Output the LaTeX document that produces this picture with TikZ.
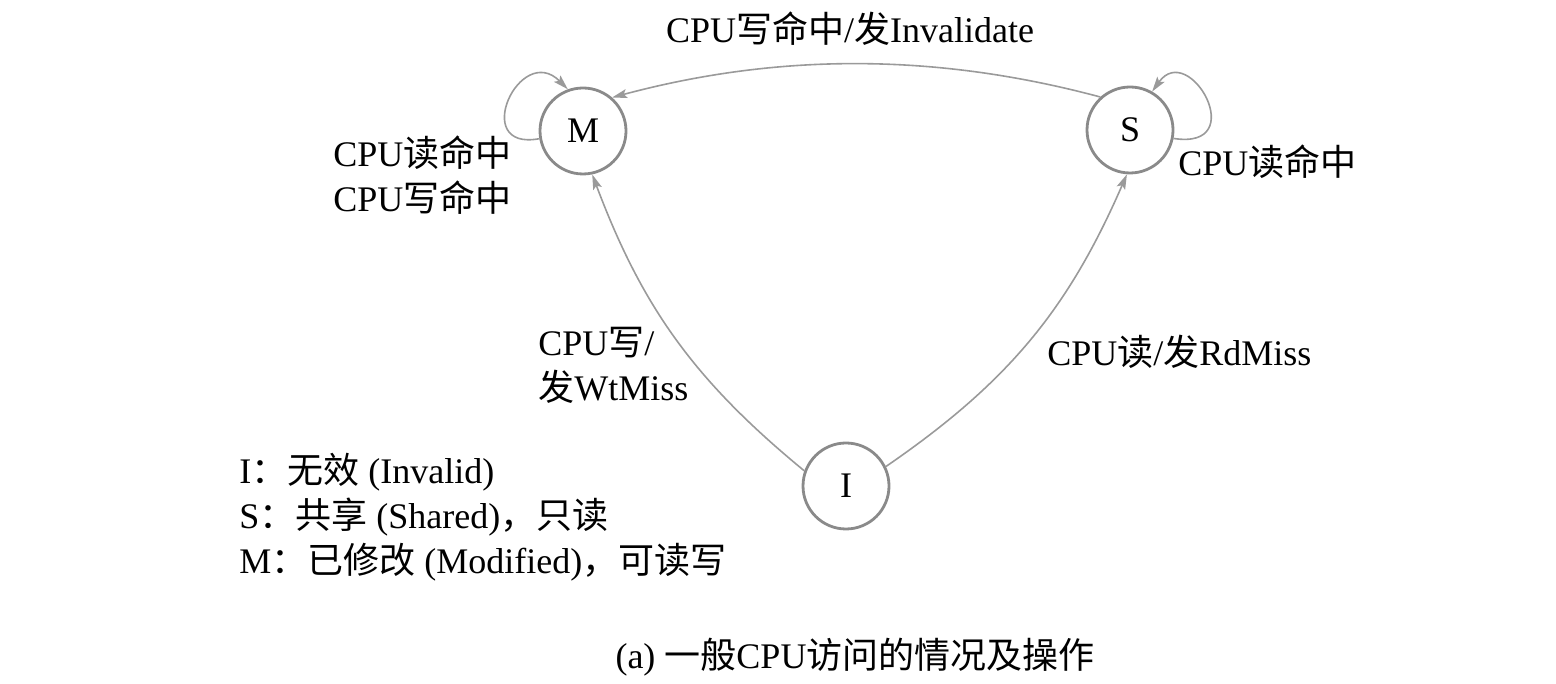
\documentclass[tikz,border=0pt]{standalone}
\usepackage{fontspec}
\setmainfont{Liberation Serif}
\newfontfamily\cjk{Noto Sans CJK SC}
\newcommand{\zh}[1]{{\cjk #1}}
\usetikzlibrary{arrows.meta}
\definecolor{circgray}{HTML}{8A8A8A}
\definecolor{edgegray}{HTML}{9A9A9A}
\begin{document}
\begin{tikzpicture}[x=0.5pt,y=0.5pt,
  state/.style={circle,draw=circgray,line width=1.4pt,minimum size=43pt,inner sep=0pt,font=\fontsize{18}{22}\selectfont},
  trans/.style={draw=edgegray,line width=0.8pt,-{Stealth[length=7.5pt,width=4.5pt,inset=1.5pt]}},
  lbl/.style={font=\fontsize{18}{22.5}\selectfont,inner sep=0pt,align=left}]
\useasboundingbox (0,0) rectangle (1556,684);
\node[state] (M) at (583,553) {M};
\node[state] (S) at (1130,554) {S};
\node[state] (I) at (846,198) {I};
% transitions
\draw[trans] (S.132) to[out=165,in=15,looseness=0.9] (M.49);
\draw[trans] (I.160) to[bend left=15] (M.-78);
\draw[trans] (I.26) to[bend right=16] (S.-94);
\draw[trans] (M.190) .. controls +(-70,-13) and +(-48,48) .. (M.110);
\draw[trans] (S.-11) .. controls +(78,-12) and +(37,52) .. (S.60);
% labels
\node[lbl] (ltop) at (850,655) {CPU\zh{写命中}/\zh{发}Invalidate};
\node[lbl,anchor=west] (lm) at (333,509) {CPU\zh{读命中}\\CPU\zh{写命中}};
\node[lbl,anchor=west] (ls) at (1178,522) {CPU\zh{读命中}};
\node[lbl,anchor=west] (lim) at (538,319) {CPU\zh{写}/\\\zh{发}WtMiss};
\node[lbl,anchor=west] (lis) at (1047,332) {CPU\zh{读}/\zh{发}RdMiss};
\node[lbl,anchor=west,text depth=0pt] (legend) at (239,171) {I\zh{：无效} (Invalid)\\S\zh{：共享} (Shared)\zh{，只读}\\M\zh{：已修改} (Modified)\zh{，可读写}};
\node[lbl] (cap) at (855,27) {(a) \zh{一般}CPU\zh{访问的情况及操作}};
\end{tikzpicture}
\end{document}
